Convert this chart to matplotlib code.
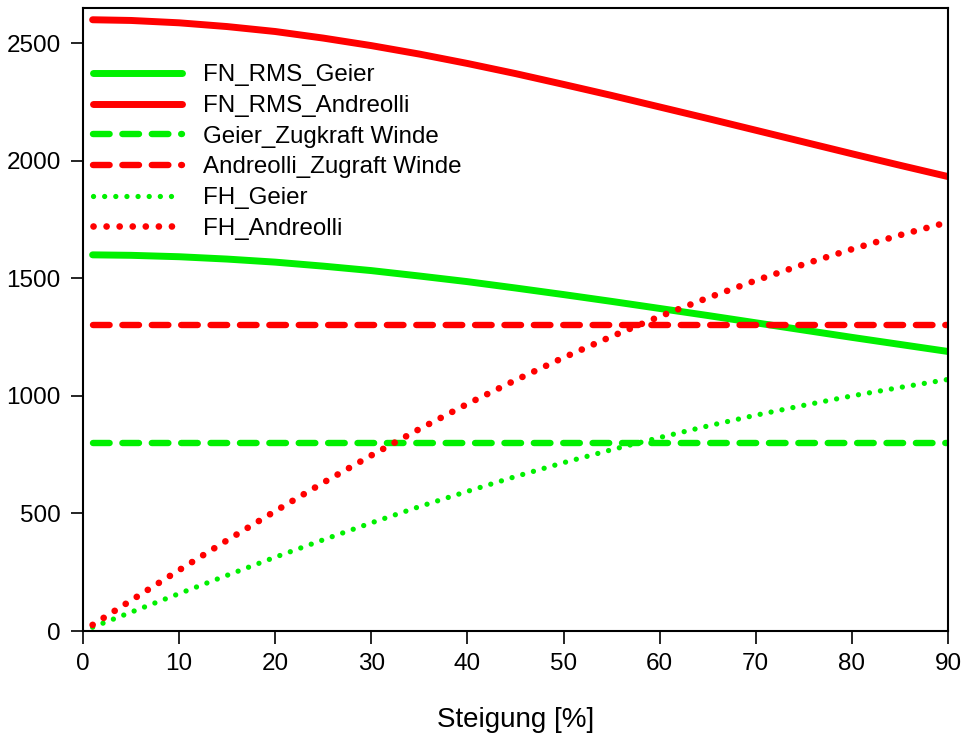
import numpy as np
import matplotlib
matplotlib.use("Agg")
from matplotlib import pyplot as plt

plt.rcParams['font.family'] = ['Liberation Sans', 'DejaVu Sans']

# Steigung in %
steigung = [1, 5, 10, 15, 20, 25, 30, 35, 40, 45, 50, 55, 60, 65, 70, 75, 80, 85, 90]

fn_rms_geier = [1600, 1598, 1592, 1582, 1569, 1552, 1533, 1510, 1486, 1459,
                1431, 1402, 1372, 1342, 1311, 1280, 1249, 1219, 1189]
fn_rms_andreolli = [2600, 2597, 2587, 2571, 2550, 2522, 2490, 2454, 2414, 2371,
                    2325, 2278, 2229, 2180, 2130, 2080, 2030, 1981, 1933]
zugkraft_geier = [800] * len(steigung)
zugkraft_andreolli = [1300] * len(steigung)
fh_geier = [16, 80, 159, 237, 314, 388, 460, 529, 594, 657,
            716, 771, 823, 872, 918, 960, 1000, 1036, 1070]
fh_andreolli = [26, 130, 259, 386, 510, 631, 747, 859, 966, 1067,
                1163, 1253, 1338, 1417, 1491, 1560, 1624, 1684, 1739]

green = '#00f000'
red = '#ff0000'

fig = plt.figure(figsize=(9.65, 7.35), dpi=100)
ax = fig.add_axes([83 / 965, 1 - 631 / 735, (948 - 83) / 965, (631 - 8) / 735])

ax.plot(steigung, fn_rms_geier, color=green, lw=5, solid_capstyle='round', label='FN_RMS_Geier')
ax.plot(steigung, fn_rms_andreolli, color=red, lw=5, solid_capstyle='round', label='FN_RMS_Andreolli')
ax.plot(steigung, zugkraft_geier, color=green, lw=4.6, dashes=(2.6, 2.0), dash_capstyle='round',
        label='Geier_Zugkraft Winde')
ax.plot(steigung, zugkraft_andreolli, color=red, lw=4.6, dashes=(2.6, 2.0), dash_capstyle='round',
        label='Andreolli_Zugraft Winde')
ax.plot(steigung, fh_geier, color=green, lw=3.8, dashes=(0.01, 2.1), dash_capstyle='round', label='FH_Geier')
ax.plot(steigung, fh_andreolli, color=red, lw=4.8, dashes=(0.01, 1.95), dash_capstyle='round', label='FH_Andreolli')

ax.set_xlim(0, 90)
ax.set_ylim(0, 2650)
ax.set_xticks(range(0, 91, 10))
ax.set_yticks(range(0, 2501, 500))
ax.tick_params(direction='out', length=9, width=1.2, labelsize=17.5, pad=7)
for s in ax.spines.values():
    s.set_linewidth(1.5)
ax.set_xlabel('Steigung [%]', fontsize=20, labelpad=23)

ax.legend(loc='upper left', frameon=False, fontsize=17.4, handlelength=3.7, handletextpad=0.85,
          labelspacing=0.36, bbox_to_anchor=(0.0, 0.925), borderaxespad=0.0)

fig.savefig('out.png', dpi=100)
